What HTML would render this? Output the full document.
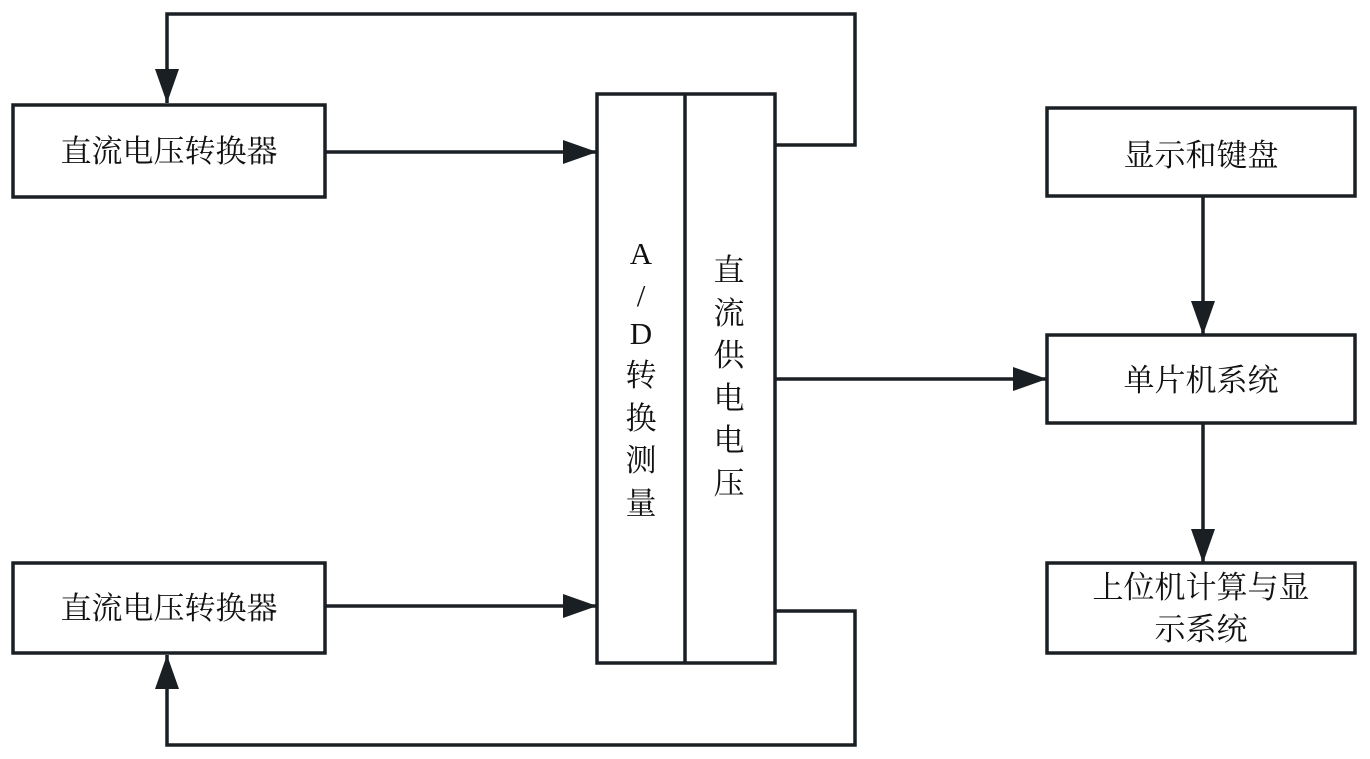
<!DOCTYPE html>
<html><head><meta charset="utf-8"><style>body{margin:0;background:#fff}svg{display:block}</style></head>
<body>
<svg width="1370" height="759" viewBox="0 0 1370 759" xmlns="http://www.w3.org/2000/svg">
<defs><marker id="a" markerWidth="10" markerHeight="8" refX="9" refY="4" orient="auto" markerUnits="userSpaceOnUse" viewBox="0 0 10 8"><path d="M0,0 L10,4 L0,8 z" fill="#1a1f24"/></marker>
<marker id="b" markerWidth="34" markerHeight="24" refX="34" refY="12" orient="auto" markerUnits="userSpaceOnUse"><path d="M0,0 L34,12 L0,24 z" fill="#1a1f24"/></marker></defs>
<g fill="none" stroke="#1a1f24" stroke-width="3.5">
<rect x="13" y="105" width="312" height="92"/>
<rect x="13" y="563" width="312" height="90"/>
<rect x="597" y="94" width="178" height="569"/>
<line x1="685" y1="94" x2="685" y2="663"/>
<rect x="1047" y="108" width="308" height="88"/>
<rect x="1047" y="335" width="308" height="88"/>
<rect x="1047" y="563" width="308" height="90"/>
<polyline points="775,145 855,145 855,14 167,14 167,103" marker-end="url(#b)"/>
<polyline points="775,611 855,611 855,745 167,745 167,655" marker-end="url(#b)"/>
<line x1="325" y1="152" x2="597" y2="152" marker-end="url(#b)"/>
<line x1="325" y1="606" x2="597" y2="606" marker-end="url(#b)"/>
<line x1="775" y1="379" x2="1047" y2="379" marker-end="url(#b)"/>
<line x1="1203" y1="196" x2="1203" y2="335" marker-end="url(#b)"/>
<line x1="1203" y1="423" x2="1203" y2="563" marker-end="url(#b)"/>
</g>
<g font-family="Liberation Serif, Noto Serif CJK SC, serif" font-size="31" fill="#111" text-anchor="middle">
<text x="169" y="162">直流电压转换器</text>
<text x="169" y="619">直流电压转换器</text>
<text x="1201" y="166">显示和键盘</text>
<text x="1201" y="391">单片机系统</text>
<text x="1201" y="598">上位机计算与显</text>
<text x="1201" y="640">示系统</text>
<text x="641" y="264">A</text>
<text x="641" y="306">/</text>
<text x="641" y="344">D</text>
<text x="641" y="386">转</text>
<text x="641" y="429">换</text>
<text x="641" y="471">测</text>
<text x="641" y="514">量</text>
<text x="729" y="281">直</text>
<text x="729" y="324">流</text>
<text x="729" y="366">供</text>
<text x="729" y="409">电</text>
<text x="729" y="451">电</text>
<text x="729" y="494">压</text>
</g>
</svg>
</body></html>
